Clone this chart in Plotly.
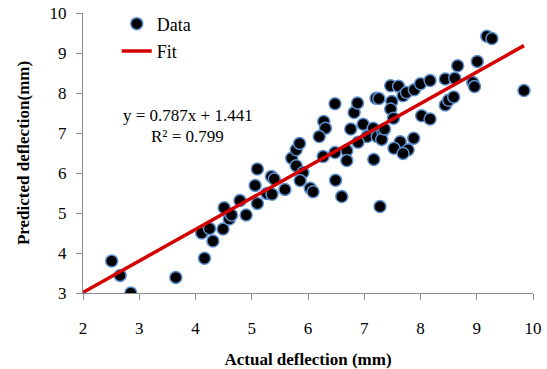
import plotly.graph_objects as go

actual = [2.51, 2.66, 2.85, 3.65,
          4.11, 4.16, 4.25, 4.31, 4.49, 4.51, 4.60, 4.64, 4.79, 4.90,
          5.06, 5.10, 5.10, 5.27, 5.35, 5.40, 5.36, 5.59,
          5.71, 5.79, 5.85, 5.79, 5.91, 5.86, 6.04, 6.09,
          6.27, 6.48, 6.69, 6.69, 7.17, 6.49, 6.60, 7.28,
          6.28, 6.31, 6.20, 6.48, 6.82, 6.88, 6.76, 6.98, 7.16, 7.05, 7.23, 6.89,
          7.21, 7.26, 7.47, 7.61, 7.49, 7.69, 7.75, 7.89, 8.00, 8.17, 8.44, 8.61,
          7.47, 7.52, 8.02, 8.17, 8.44, 8.50, 8.59,
          7.33, 7.31, 7.36, 7.64, 7.88, 7.53, 7.78, 7.69,
          8.66, 8.93, 8.96, 9.01, 9.18, 9.27, 9.84]
predicted = [3.80, 3.44, 3.00, 3.39,
             4.50, 3.87, 4.61, 4.30, 4.60, 5.13, 4.85, 4.95, 5.31, 4.95,
             5.69, 6.10, 5.24, 5.49, 5.91, 5.85, 5.47, 5.59,
             6.37, 6.58, 6.74, 6.18, 6.01, 5.81, 5.62, 5.53,
             6.41, 6.51, 6.56, 6.31, 6.34, 5.82, 5.41, 5.16,
             7.29, 7.12, 6.91, 7.73, 7.51, 7.75, 7.10, 7.22, 7.12, 6.91, 6.91, 6.77,
             7.87, 7.86, 8.18, 8.17, 7.79, 7.93, 8.01, 8.08, 8.23, 8.31, 8.35, 8.37,
             7.60, 7.37, 7.43, 7.35, 7.70, 7.82, 7.90,
             7.04, 6.84, 7.10, 6.78, 6.87, 6.62, 6.58, 6.49,
             8.68, 8.26, 8.16, 8.79, 9.42, 9.36, 8.06]

slope = 0.787
intercept = 1.441
fit_x = [2.0, max(actual)]
fit_y = [slope * v + intercept for v in fit_x]

x_ticks = [2, 3, 4, 5, 6, 7, 8, 9, 10]
y_ticks = [3, 4, 5, 6, 7, 8, 9, 10]

FONT = "Liberation Serif"

fig = go.Figure()
fig.add_trace(go.Scatter(
    x=actual, y=predicted, mode="markers", name="Data", legendgroup="a",
    marker=dict(size=12, color="black", line=dict(color="#5b8fd0", width=1.5)),
))
fig.add_trace(go.Scatter(
    x=fit_x, y=fit_y, mode="lines", name="Fit", legendgroup="b",
    line=dict(color="#d40000", width=3.5),
))

axis_common = dict(
    showgrid=False, zeroline=False, showline=True, linecolor="#8c8c8c", linewidth=1,
    ticks="outside", ticklen=6, tickcolor="#8c8c8c", automargin=False,
    tickfont=dict(family=FONT, size=17, color="black"),
)
fig.update_xaxes(range=[2, 10], tickvals=x_ticks, ticklabelstandoff=14,
                 title=dict(text="<b>Actual deflection (mm)</b>",
                            font=dict(family=FONT, size=17, color="black"), standoff=16),
                 **axis_common)
fig.update_yaxes(range=[3, 10], tickvals=y_ticks, ticklabelstandoff=6,
                 title=dict(text="<b>Predicted deflection(mm)</b>",
                            font=dict(family=FONT, size=17, color="black"), standoff=15),
                 **axis_common)

fig.add_annotation(text="y = 0.787x + 1.441", xref="paper", yref="paper",
                   x=0.233, y=0.634, xanchor="center", yanchor="middle", showarrow=False,
                   font=dict(family=FONT, size=17, color="black"))
fig.add_annotation(text="R² = 0.799", xref="paper", yref="paper",
                   x=0.233, y=0.5585, xanchor="center", yanchor="middle", showarrow=False,
                   font=dict(family=FONT, size=17, color="black"))

fig.update_layout(
    width=547, height=369,
    margin=dict(l=83, r=14, t=13, b=76, autoexpand=False),
    plot_bgcolor="white", paper_bgcolor="white",
    legend=dict(x=0.075, y=1.027, xanchor="left", yanchor="top",
                font=dict(family=FONT, size=18, color="black"),
                bgcolor="rgba(0,0,0,0)", tracegroupgap=1),
    showlegend=True,
)

fig.write_html("out.html")
